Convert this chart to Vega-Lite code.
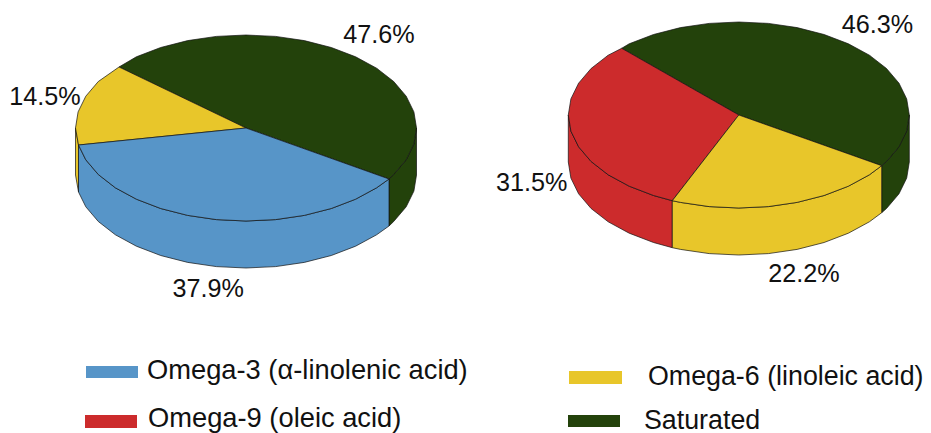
{"$schema":"https://vega.github.io/schema/vega-lite/v6.json","width":931,"height":433,"padding":0,"autosize":"none","background":"white","config":{"view":{"stroke":null}},
"datasets":{"outline":[
{"g":"L-wall-sat","s":"Saturated","i":0,"x":389,"y":179},{"g":"L-wall-sat","s":"Saturated","i":1,"x":393.7,"y":174.5},{"g":"L-wall-sat","s":"Saturated","i":2,"x":406.2,"y":159.8},{"g":"L-wall-sat","s":"Saturated","i":3,"x":413.9,"y":144.1},{"g":"L-wall-sat","s":"Saturated","i":4,"x":416.5,"y":128},{"g":"L-wall-sat","s":"Saturated","i":5,"x":416.5,"y":175},{"g":"L-wall-sat","s":"Saturated","i":6,"x":413.9,"y":191.1},{"g":"L-wall-sat","s":"Saturated","i":7,"x":406.2,"y":206.8},{"g":"L-wall-sat","s":"Saturated","i":8,"x":393.7,"y":221.5},{"g":"L-wall-sat","s":"Saturated","i":9,"x":389,"y":226},{"g":"L-wall-sat","s":"Saturated","i":10,"x":389,"y":179},
{"g":"L-wall-o6","s":"Omega-6","i":0,"x":75.5,"y":128},{"g":"L-wall-o6","s":"Omega-6","i":1,"x":78.5,"y":145},{"g":"L-wall-o6","s":"Omega-6","i":2,"x":78.5,"y":192},{"g":"L-wall-o6","s":"Omega-6","i":3,"x":75.5,"y":175},{"g":"L-wall-o6","s":"Omega-6","i":4,"x":75.5,"y":128},
{"g":"L-wall-o3","s":"Omega-3","i":0,"x":78.5,"y":145},{"g":"L-wall-o3","s":"Omega-3","i":1,"x":85.8,"y":159.8},{"g":"L-wall-o3","s":"Omega-3","i":2,"x":98.3,"y":174.5},{"g":"L-wall-o3","s":"Omega-3","i":3,"x":115.4,"y":187.8},{"g":"L-wall-o3","s":"Omega-3","i":4,"x":136.4,"y":199.2},{"g":"L-wall-o3","s":"Omega-3","i":5,"x":160.7,"y":208.5},{"g":"L-wall-o3","s":"Omega-3","i":6,"x":187.7,"y":215.4},{"g":"L-wall-o3","s":"Omega-3","i":7,"x":216.4,"y":219.6},{"g":"L-wall-o3","s":"Omega-3","i":8,"x":246,"y":221},{"g":"L-wall-o3","s":"Omega-3","i":9,"x":275.6,"y":219.6},{"g":"L-wall-o3","s":"Omega-3","i":10,"x":304.3,"y":215.4},{"g":"L-wall-o3","s":"Omega-3","i":11,"x":331.3,"y":208.5},{"g":"L-wall-o3","s":"Omega-3","i":12,"x":355.6,"y":199.2},{"g":"L-wall-o3","s":"Omega-3","i":13,"x":376.6,"y":187.8},{"g":"L-wall-o3","s":"Omega-3","i":14,"x":389,"y":179},{"g":"L-wall-o3","s":"Omega-3","i":15,"x":389,"y":226},{"g":"L-wall-o3","s":"Omega-3","i":16,"x":376.6,"y":234.8},{"g":"L-wall-o3","s":"Omega-3","i":17,"x":355.6,"y":246.2},{"g":"L-wall-o3","s":"Omega-3","i":18,"x":331.3,"y":255.5},{"g":"L-wall-o3","s":"Omega-3","i":19,"x":304.3,"y":262.4},{"g":"L-wall-o3","s":"Omega-3","i":20,"x":275.6,"y":266.6},{"g":"L-wall-o3","s":"Omega-3","i":21,"x":246,"y":268},{"g":"L-wall-o3","s":"Omega-3","i":22,"x":216.4,"y":266.6},{"g":"L-wall-o3","s":"Omega-3","i":23,"x":187.7,"y":262.4},{"g":"L-wall-o3","s":"Omega-3","i":24,"x":160.7,"y":255.5},{"g":"L-wall-o3","s":"Omega-3","i":25,"x":136.4,"y":246.2},{"g":"L-wall-o3","s":"Omega-3","i":26,"x":115.4,"y":234.8},{"g":"L-wall-o3","s":"Omega-3","i":27,"x":98.3,"y":221.5},{"g":"L-wall-o3","s":"Omega-3","i":28,"x":85.8,"y":206.8},{"g":"L-wall-o3","s":"Omega-3","i":29,"x":78.5,"y":192},{"g":"L-wall-o3","s":"Omega-3","i":30,"x":78.5,"y":145},
{"g":"L-top-sat","s":"Saturated","i":0,"x":246,"y":128},{"g":"L-top-sat","s":"Saturated","i":1,"x":389,"y":179},{"g":"L-top-sat","s":"Saturated","i":2,"x":393.7,"y":174.5},{"g":"L-top-sat","s":"Saturated","i":3,"x":406.2,"y":159.8},{"g":"L-top-sat","s":"Saturated","i":4,"x":413.9,"y":144.1},{"g":"L-top-sat","s":"Saturated","i":5,"x":416.5,"y":128},{"g":"L-top-sat","s":"Saturated","i":6,"x":413.9,"y":111.9},{"g":"L-top-sat","s":"Saturated","i":7,"x":406.2,"y":96.2},{"g":"L-top-sat","s":"Saturated","i":8,"x":393.7,"y":81.5},{"g":"L-top-sat","s":"Saturated","i":9,"x":376.6,"y":68.2},{"g":"L-top-sat","s":"Saturated","i":10,"x":355.6,"y":56.8},{"g":"L-top-sat","s":"Saturated","i":11,"x":331.3,"y":47.5},{"g":"L-top-sat","s":"Saturated","i":12,"x":304.3,"y":40.6},{"g":"L-top-sat","s":"Saturated","i":13,"x":275.6,"y":36.4},{"g":"L-top-sat","s":"Saturated","i":14,"x":246,"y":35},{"g":"L-top-sat","s":"Saturated","i":15,"x":216.4,"y":36.4},{"g":"L-top-sat","s":"Saturated","i":16,"x":187.7,"y":40.6},{"g":"L-top-sat","s":"Saturated","i":17,"x":160.7,"y":47.5},{"g":"L-top-sat","s":"Saturated","i":18,"x":136.4,"y":56.8},{"g":"L-top-sat","s":"Saturated","i":19,"x":119,"y":67},{"g":"L-top-sat","s":"Saturated","i":20,"x":246,"y":128},
{"g":"L-top-o6","s":"Omega-6","i":0,"x":246,"y":128},{"g":"L-top-o6","s":"Omega-6","i":1,"x":119,"y":67},{"g":"L-top-o6","s":"Omega-6","i":2,"x":98.3,"y":81.5},{"g":"L-top-o6","s":"Omega-6","i":3,"x":85.8,"y":96.2},{"g":"L-top-o6","s":"Omega-6","i":4,"x":78.1,"y":111.9},{"g":"L-top-o6","s":"Omega-6","i":5,"x":75.5,"y":128},{"g":"L-top-o6","s":"Omega-6","i":6,"x":78.5,"y":145},{"g":"L-top-o6","s":"Omega-6","i":7,"x":246,"y":128},
{"g":"L-top-o3","s":"Omega-3","i":0,"x":246,"y":128},{"g":"L-top-o3","s":"Omega-3","i":1,"x":78.5,"y":145},{"g":"L-top-o3","s":"Omega-3","i":2,"x":85.8,"y":159.8},{"g":"L-top-o3","s":"Omega-3","i":3,"x":98.3,"y":174.5},{"g":"L-top-o3","s":"Omega-3","i":4,"x":115.4,"y":187.8},{"g":"L-top-o3","s":"Omega-3","i":5,"x":136.4,"y":199.2},{"g":"L-top-o3","s":"Omega-3","i":6,"x":160.7,"y":208.5},{"g":"L-top-o3","s":"Omega-3","i":7,"x":187.7,"y":215.4},{"g":"L-top-o3","s":"Omega-3","i":8,"x":216.4,"y":219.6},{"g":"L-top-o3","s":"Omega-3","i":9,"x":246,"y":221},{"g":"L-top-o3","s":"Omega-3","i":10,"x":275.6,"y":219.6},{"g":"L-top-o3","s":"Omega-3","i":11,"x":304.3,"y":215.4},{"g":"L-top-o3","s":"Omega-3","i":12,"x":331.3,"y":208.5},{"g":"L-top-o3","s":"Omega-3","i":13,"x":355.6,"y":199.2},{"g":"L-top-o3","s":"Omega-3","i":14,"x":376.6,"y":187.8},{"g":"L-top-o3","s":"Omega-3","i":15,"x":389,"y":179},{"g":"L-top-o3","s":"Omega-3","i":16,"x":246,"y":128},
{"g":"R-wall-sat","s":"Saturated","i":0,"x":881.7,"y":165.7},{"g":"R-wall-sat","s":"Saturated","i":1,"x":886.5,"y":161.5},{"g":"R-wall-sat","s":"Saturated","i":2,"x":899,"y":146.8},{"g":"R-wall-sat","s":"Saturated","i":3,"x":906.7,"y":131.1},{"g":"R-wall-sat","s":"Saturated","i":4,"x":909.3,"y":115},{"g":"R-wall-sat","s":"Saturated","i":5,"x":909.3,"y":162},{"g":"R-wall-sat","s":"Saturated","i":6,"x":906.7,"y":178.1},{"g":"R-wall-sat","s":"Saturated","i":7,"x":899,"y":193.8},{"g":"R-wall-sat","s":"Saturated","i":8,"x":886.5,"y":208.5},{"g":"R-wall-sat","s":"Saturated","i":9,"x":881.7,"y":212.7},{"g":"R-wall-sat","s":"Saturated","i":10,"x":881.7,"y":165.7},
{"g":"R-wall-o9","s":"Omega-9","i":0,"x":568.3,"y":115},{"g":"R-wall-o9","s":"Omega-9","i":1,"x":570.9,"y":131.1},{"g":"R-wall-o9","s":"Omega-9","i":2,"x":578.6,"y":146.8},{"g":"R-wall-o9","s":"Omega-9","i":3,"x":591.1,"y":161.5},{"g":"R-wall-o9","s":"Omega-9","i":4,"x":608.2,"y":174.8},{"g":"R-wall-o9","s":"Omega-9","i":5,"x":629.2,"y":186.2},{"g":"R-wall-o9","s":"Omega-9","i":6,"x":653.5,"y":195.5},{"g":"R-wall-o9","s":"Omega-9","i":7,"x":672.3,"y":200.7},{"g":"R-wall-o9","s":"Omega-9","i":8,"x":672.3,"y":247.7},{"g":"R-wall-o9","s":"Omega-9","i":9,"x":653.5,"y":242.5},{"g":"R-wall-o9","s":"Omega-9","i":10,"x":629.2,"y":233.2},{"g":"R-wall-o9","s":"Omega-9","i":11,"x":608.2,"y":221.8},{"g":"R-wall-o9","s":"Omega-9","i":12,"x":591.1,"y":208.5},{"g":"R-wall-o9","s":"Omega-9","i":13,"x":578.6,"y":193.8},{"g":"R-wall-o9","s":"Omega-9","i":14,"x":570.9,"y":178.1},{"g":"R-wall-o9","s":"Omega-9","i":15,"x":568.3,"y":162},{"g":"R-wall-o9","s":"Omega-9","i":16,"x":568.3,"y":115},
{"g":"R-wall-o6","s":"Omega-6","i":0,"x":672.3,"y":200.7},{"g":"R-wall-o6","s":"Omega-6","i":1,"x":680.5,"y":202.4},{"g":"R-wall-o6","s":"Omega-6","i":2,"x":709.2,"y":206.6},{"g":"R-wall-o6","s":"Omega-6","i":3,"x":738.8,"y":208},{"g":"R-wall-o6","s":"Omega-6","i":4,"x":768.4,"y":206.6},{"g":"R-wall-o6","s":"Omega-6","i":5,"x":797.1,"y":202.4},{"g":"R-wall-o6","s":"Omega-6","i":6,"x":824.1,"y":195.5},{"g":"R-wall-o6","s":"Omega-6","i":7,"x":848.4,"y":186.2},{"g":"R-wall-o6","s":"Omega-6","i":8,"x":869.4,"y":174.8},{"g":"R-wall-o6","s":"Omega-6","i":9,"x":881.7,"y":165.7},{"g":"R-wall-o6","s":"Omega-6","i":10,"x":881.7,"y":212.7},{"g":"R-wall-o6","s":"Omega-6","i":11,"x":869.4,"y":221.8},{"g":"R-wall-o6","s":"Omega-6","i":12,"x":848.4,"y":233.2},{"g":"R-wall-o6","s":"Omega-6","i":13,"x":824.1,"y":242.5},{"g":"R-wall-o6","s":"Omega-6","i":14,"x":797.1,"y":249.4},{"g":"R-wall-o6","s":"Omega-6","i":15,"x":768.4,"y":253.6},{"g":"R-wall-o6","s":"Omega-6","i":16,"x":738.8,"y":255},{"g":"R-wall-o6","s":"Omega-6","i":17,"x":709.2,"y":253.6},{"g":"R-wall-o6","s":"Omega-6","i":18,"x":680.5,"y":249.4},{"g":"R-wall-o6","s":"Omega-6","i":19,"x":672.3,"y":247.7},{"g":"R-wall-o6","s":"Omega-6","i":20,"x":672.3,"y":200.7},
{"g":"R-top-sat","s":"Saturated","i":0,"x":738.8,"y":115},{"g":"R-top-sat","s":"Saturated","i":1,"x":881.7,"y":165.7},{"g":"R-top-sat","s":"Saturated","i":2,"x":886.5,"y":161.5},{"g":"R-top-sat","s":"Saturated","i":3,"x":899,"y":146.8},{"g":"R-top-sat","s":"Saturated","i":4,"x":906.7,"y":131.1},{"g":"R-top-sat","s":"Saturated","i":5,"x":909.3,"y":115},{"g":"R-top-sat","s":"Saturated","i":6,"x":906.7,"y":98.9},{"g":"R-top-sat","s":"Saturated","i":7,"x":899,"y":83.2},{"g":"R-top-sat","s":"Saturated","i":8,"x":886.5,"y":68.5},{"g":"R-top-sat","s":"Saturated","i":9,"x":869.4,"y":55.2},{"g":"R-top-sat","s":"Saturated","i":10,"x":848.4,"y":43.8},{"g":"R-top-sat","s":"Saturated","i":11,"x":824.1,"y":34.5},{"g":"R-top-sat","s":"Saturated","i":12,"x":797.1,"y":27.6},{"g":"R-top-sat","s":"Saturated","i":13,"x":768.4,"y":23.4},{"g":"R-top-sat","s":"Saturated","i":14,"x":738.8,"y":22},{"g":"R-top-sat","s":"Saturated","i":15,"x":709.2,"y":23.4},{"g":"R-top-sat","s":"Saturated","i":16,"x":680.5,"y":27.6},{"g":"R-top-sat","s":"Saturated","i":17,"x":653.5,"y":34.5},{"g":"R-top-sat","s":"Saturated","i":18,"x":629.2,"y":43.8},{"g":"R-top-sat","s":"Saturated","i":19,"x":621.7,"y":48.3},{"g":"R-top-sat","s":"Saturated","i":20,"x":738.8,"y":115},
{"g":"R-top-o9","s":"Omega-9","i":0,"x":738.8,"y":115},{"g":"R-top-o9","s":"Omega-9","i":1,"x":621.7,"y":48.3},{"g":"R-top-o9","s":"Omega-9","i":2,"x":608.2,"y":55.2},{"g":"R-top-o9","s":"Omega-9","i":3,"x":591.1,"y":68.5},{"g":"R-top-o9","s":"Omega-9","i":4,"x":578.6,"y":83.2},{"g":"R-top-o9","s":"Omega-9","i":5,"x":570.9,"y":98.9},{"g":"R-top-o9","s":"Omega-9","i":6,"x":568.3,"y":115},{"g":"R-top-o9","s":"Omega-9","i":7,"x":570.9,"y":131.1},{"g":"R-top-o9","s":"Omega-9","i":8,"x":578.6,"y":146.8},{"g":"R-top-o9","s":"Omega-9","i":9,"x":591.1,"y":161.5},{"g":"R-top-o9","s":"Omega-9","i":10,"x":608.2,"y":174.8},{"g":"R-top-o9","s":"Omega-9","i":11,"x":629.2,"y":186.2},{"g":"R-top-o9","s":"Omega-9","i":12,"x":653.5,"y":195.5},{"g":"R-top-o9","s":"Omega-9","i":13,"x":672.3,"y":200.7},{"g":"R-top-o9","s":"Omega-9","i":14,"x":738.8,"y":115},
{"g":"R-top-o6","s":"Omega-6","i":0,"x":738.8,"y":115},{"g":"R-top-o6","s":"Omega-6","i":1,"x":672.3,"y":200.7},{"g":"R-top-o6","s":"Omega-6","i":2,"x":680.5,"y":202.4},{"g":"R-top-o6","s":"Omega-6","i":3,"x":709.2,"y":206.6},{"g":"R-top-o6","s":"Omega-6","i":4,"x":738.8,"y":208},{"g":"R-top-o6","s":"Omega-6","i":5,"x":768.4,"y":206.6},{"g":"R-top-o6","s":"Omega-6","i":6,"x":797.1,"y":202.4},{"g":"R-top-o6","s":"Omega-6","i":7,"x":824.1,"y":195.5},{"g":"R-top-o6","s":"Omega-6","i":8,"x":848.4,"y":186.2},{"g":"R-top-o6","s":"Omega-6","i":9,"x":869.4,"y":174.8},{"g":"R-top-o6","s":"Omega-6","i":10,"x":881.7,"y":165.7},{"g":"R-top-o6","s":"Omega-6","i":11,"x":738.8,"y":115}
],
"pct":[{"t":"47.6%","x":379,"y":43.3},{"t":"14.5%","x":45,"y":105},{"t":"37.9%","x":208.3,"y":297},{"t":"46.3%","x":877.5,"y":33},{"t":"31.5%","x":531.8,"y":190.7},{"t":"22.2%","x":804,"y":281.7}],
"legend":[{"s":"Omega-3","t":"Omega-3 (α-linolenic acid)","x":86,"x2":138,"y":366,"y2":378,"tx":147,"ty":379},{"s":"Omega-9","t":"Omega-9 (oleic acid)","x":85,"x2":137,"y":415,"y2":428,"tx":148,"ty":427},{"s":"Omega-6","t":"Omega-6 (linoleic acid)","x":569,"x2":622,"y":371,"y2":384,"tx":648,"ty":385},{"s":"Saturated","t":"Saturated","x":568,"x2":620,"y":415,"y2":427,"tx":644,"ty":429}]},
"layer":[
{"data":{"name":"outline"},"mark":{"type":"line","filled":true,"stroke":"#111111","strokeWidth":0.7,"interpolate":"linear"},"encoding":{
"x":{"field":"x","type":"quantitative","scale":{"domain":[0,931],"nice":false,"zero":false},"axis":null},
"y":{"field":"y","type":"quantitative","scale":{"domain":[433,0],"nice":false,"zero":false},"axis":null},
"detail":{"field":"g"},"order":{"field":"i","type":"quantitative"},
"color":{"field":"s","type":"nominal","legend":null,"scale":{"domain":["Omega-3","Omega-6","Omega-9","Saturated"],"range":["#5795c8","#e8c62a","#cc2b2c","#23420b"]}}}},
{"data":{"name":"legend"},"mark":{"type":"rect"},"encoding":{
"x":{"field":"x","type":"quantitative"},"x2":{"field":"x2"},"y":{"field":"y","type":"quantitative"},"y2":{"field":"y2"},
"color":{"field":"s","type":"nominal","legend":null}}},
{"data":{"name":"legend"},"transform":[{"filter":"datum.tx < 500"}],"mark":{"type":"text","align":"left","baseline":"alphabetic","font":"Liberation Sans","fontSize":27.3,"color":"#111111"},"encoding":{
"x":{"field":"tx","type":"quantitative"},"y":{"field":"ty","type":"quantitative"},"text":{"field":"t"}}},
{"data":{"name":"legend"},"transform":[{"filter":"datum.tx > 500"}],"mark":{"type":"text","align":"left","baseline":"alphabetic","font":"Liberation Sans","fontSize":26.8,"color":"#111111"},"encoding":{
"x":{"field":"tx","type":"quantitative"},"y":{"field":"ty","type":"quantitative"},"text":{"field":"t"}}},
{"data":{"name":"pct"},"mark":{"type":"text","align":"center","baseline":"alphabetic","font":"Liberation Sans","fontSize":25.2,"color":"#111111"},"encoding":{
"x":{"field":"x","type":"quantitative"},"y":{"field":"y","type":"quantitative"},"text":{"field":"t"}}}
]}
